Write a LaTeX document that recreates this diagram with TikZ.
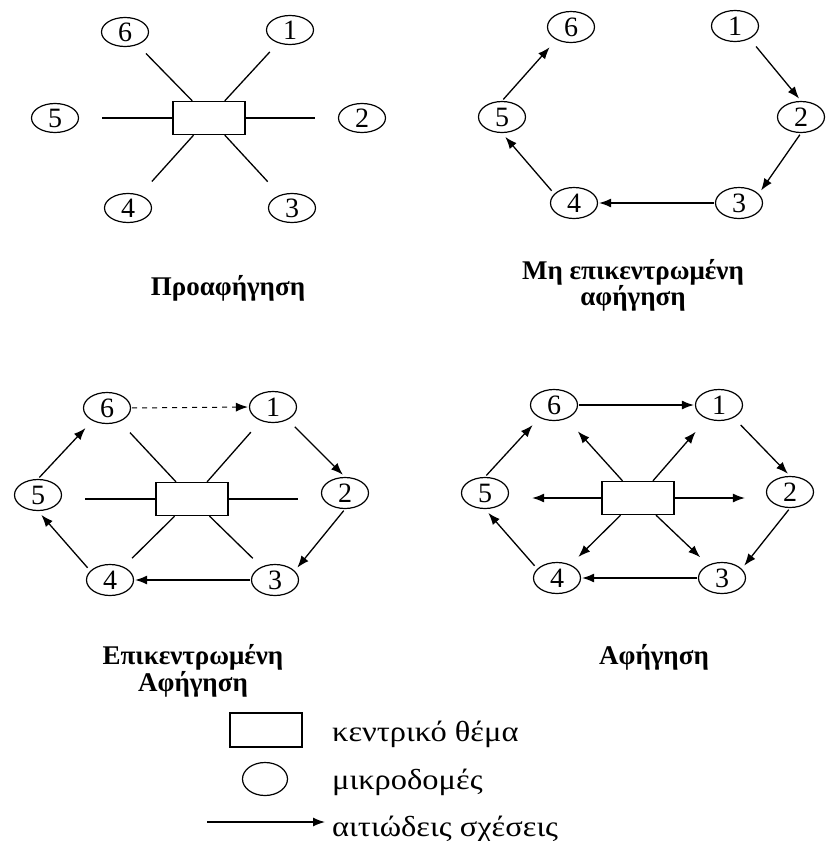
\documentclass[tikz,border=0pt]{standalone}
\usepackage{fontspec}
\setmainfont{Liberation Serif}
\newfontfamily\titlefont{Liberation Serif}
\newfontfamily\legfont[FakeStretch=1.12]{Liberation Serif}
\usetikzlibrary{shapes.geometric,arrows.meta}
\tikzset{
  mic/.style={draw, ellipse, line width=1.2pt, inner sep=0pt, minimum width=47pt, minimum height=31pt, font=\fontsize{28}{28}\selectfont},
  theme/.style={draw, rectangle, line width=1.3pt, inner sep=0pt, minimum width=72pt, minimum height=33pt},
  link/.style={line width=1.3pt},
  cause/.style={line width=1.3pt, -{Latex[length=12pt,width=9pt]}},
  ttl/.style={font=\titlefont\bfseries\fontsize{27}{26}\selectfont, align=center, anchor=base},
  leg/.style={font=\legfont\fontsize{29}{29}\selectfont, anchor=base west, inner sep=0pt},
}
\newcommand\ringarrows[1]{%
  \draw[cause, shorten <=10pt, shorten >=3pt] (#11.-41) -- (#12.north);
  \draw[cause, shorten <=2pt, shorten >=4pt] (#12.south) -- (#13.25);
  \draw[cause, shorten <=1pt, shorten >=1pt] (#13.west) -- (#14.east);
  \draw[cause, shorten <=4pt, shorten >=5pt] (#14.155) -- (#15.south);
  \draw[cause, shorten <=2pt, shorten >=10pt] (#15.north) -- (#16.221);
}
\begin{document}
\begin{tikzpicture}[x=1pt, y=-1pt]
\fill[white] (0,0) rectangle (825,841);
\useasboundingbox (0,0) rectangle (825,841);

% ---------- Diagram 1 ----------
\node[theme] (pbox) at (209,118) {};
\node[mic, minimum height=29pt] (p6) at (125,32) {6};
\node[mic, minimum height=29pt] (p1) at (290,30) {1};
\node[mic, minimum height=29pt] (p5) at (55,118) {5};
\node[mic, minimum height=29pt] (p2) at (362,118) {2};
\node[mic, minimum height=29pt] (p4) at (128,208) {4};
\node[mic, minimum height=29pt] (p3) at (292,208) {3};
\draw[link, shorten >=12pt] (pbox) -- (p6);
\draw[link, shorten >=12pt] (pbox) -- (p1);
\draw[link, shorten >=18pt] (pbox) -- (p4);
\draw[link, shorten >=18pt] (pbox) -- (p3);
\draw[link, shorten >=23pt] (pbox.west) -- (pbox.west -| p5.east);
\draw[link, shorten >=23pt] (pbox.east) -- (pbox.east -| p2.west);
\node[ttl] (t1) at (228,295) {Προαφήγηση};

% ---------- Diagram 2 ----------
\node[mic] (a6) at (571,27) {6};
\node[mic] (a1) at (735,26) {1};
\node[mic] (a5) at (502,117) {5};
\node[mic] (a2) at (801,117) {2};
\node[mic] (a4) at (574,203) {4};
\node[mic] (a3) at (739,203) {3};
\ringarrows{a}
\node[ttl] (t2) at (633,305) {Μη επικεντρωμένη\\αφήγηση};

% ---------- Diagram 3 ----------
\node[theme] (bbox) at (192,499) {};
\node[mic] (b6) at (107,408) {6};
\node[mic] (b1) at (273,407) {1};
\node[mic] (b5) at (38,495) {5};
\node[mic] (b2) at (345,493) {2};
\node[mic] (b4) at (110,580) {4};
\node[mic] (b3) at (275,580) {3};
\draw[link, shorten >=15pt] (bbox) -- (b6);
\draw[link, shorten >=15pt] (bbox) -- (b1);
\draw[link, shorten >=12pt] (bbox) -- (b4);
\draw[link, shorten >=12pt] (bbox) -- (b3);
\draw[link, shorten >=23pt] (bbox.west) -- (bbox.west -| b5.east);
\draw[link, shorten >=23pt] (bbox.east) -- (bbox.east -| b2.west);
\ringarrows{b}
\draw[cause, dash pattern=on 5pt off 5pt, line width=1pt, shorten <=1pt, shorten >=1pt] (b6.east) -- (b1.west);
\node[ttl, font=\titlefont\bfseries\fontsize{27}{27}\selectfont] (t3) at (193,691) {Επικεντρωμένη\\Αφήγηση};

% ---------- Diagram 4 ----------
\node[theme] (cbox) at (638,498) {};
\node[mic] (c6) at (554,405) {6};
\node[mic] (c1) at (719,405) {1};
\node[mic] (c5) at (485,493) {5};
\node[mic] (c2) at (790,492) {2};
\node[mic] (c4) at (557,578) {4};
\node[mic] (c3) at (722,578) {3};
\draw[cause, shorten >=17pt] (cbox) -- (c6);
\draw[cause, shorten >=17pt] (cbox) -- (c1);
\draw[cause, shorten >=11pt] (cbox) -- (c4);
\draw[cause, shorten >=11pt] (cbox) -- (c3);
\draw[cause, shorten >=23pt] (cbox.west) -- (cbox.west -| c5.east);
\draw[cause, shorten >=21pt] (cbox.east) -- (cbox.east -| c2.west);
\ringarrows{c}
\draw[cause, shorten <=1pt, shorten >=1pt] (c6.east) -- (c1.west);
\node[ttl] (t4) at (654,664) {Αφήγηση};

% ---------- Legend ----------
\node[theme, minimum height=34pt] (lbox) at (266,730) {};
\node[mic, minimum width=45pt, minimum height=33pt] (lell) at (265,779) {};
\coordinate (la) at (207,822);
\coordinate (lb) at (325,822);
\draw[cause] (la) -- (lb);
\node[leg] (l1) at (332,741) {κεντρικό θέμα};
\node[leg] (l2) at (332,789) {μικροδομές};
\node[leg] (l3) at (332,836) {αιτιώδεις σχέσεις};
\end{tikzpicture}
\end{document}
